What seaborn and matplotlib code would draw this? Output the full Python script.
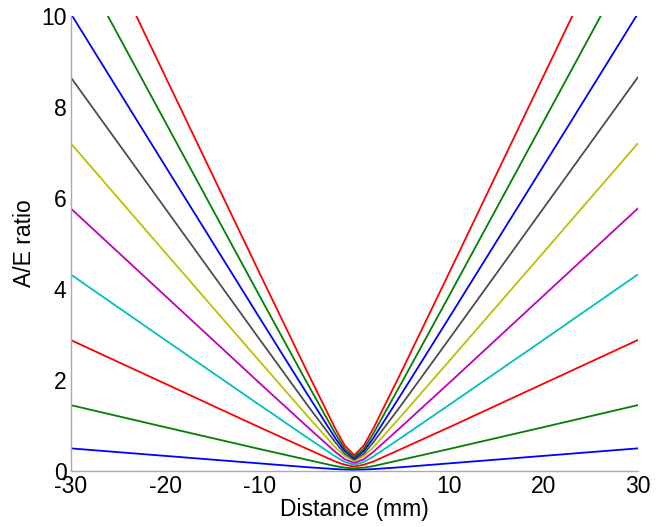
import seaborn as sns
import matplotlib.pyplot as plt
import pandas as pd

# distance positions (mm)
distance = [-30, -20, -10, -5, -2, -1, 0, 1, 2, 5, 10, 20, 30]

# A/E ratio, one list per curve (bottom to top)
ae_1 = [0.50, 0.335, 0.17, 0.087, 0.045, 0.035, 0.03, 0.035, 0.045, 0.087, 0.17, 0.335, 0.50]
ae_2 = [1.45, 0.965, 0.485, 0.25, 0.11, 0.077, 0.06, 0.077, 0.11, 0.25, 0.485, 0.965, 1.45]
ae_3 = [2.88, 1.92, 0.96, 0.49, 0.21, 0.14, 0.10, 0.14, 0.21, 0.49, 0.96, 1.92, 2.88]
ae_4 = [4.32, 2.88, 1.45, 0.74, 0.32, 0.20, 0.14, 0.20, 0.32, 0.74, 1.45, 2.88, 4.32]
ae_5 = [5.77, 3.85, 1.93, 0.98, 0.42, 0.26, 0.18, 0.26, 0.42, 0.98, 1.93, 3.85, 5.77]
ae_6 = [7.20, 4.80, 2.41, 1.22, 0.52, 0.33, 0.22, 0.33, 0.52, 1.22, 2.41, 4.80, 7.20]
ae_7 = [8.65, 5.77, 2.89, 1.46, 0.63, 0.38, 0.25, 0.38, 0.63, 1.46, 2.89, 5.77, 8.65]
ae_8 = [10.05, 6.70, 3.36, 1.70, 0.72, 0.44, 0.28, 0.44, 0.72, 1.70, 3.36, 6.70, 10.05]
ae_9 = [11.5, 7.67, 3.84, 1.94, 0.82, 0.49, 0.31, 0.49, 0.82, 1.94, 3.84, 7.67, 11.5]
ae_10 = [13.0, 8.67, 4.34, 2.19, 0.93, 0.56, 0.35, 0.56, 0.93, 2.19, 4.34, 8.67, 13.0]

curves = [ae_1, ae_2, ae_3, ae_4, ae_5, ae_6, ae_7, ae_8, ae_9, ae_10]

# matlab style colour order
colors = [(0, 0, 1), (0, 0.5, 0), (1, 0, 0), (0, 0.75, 0.75), (0.75, 0, 0.75),
          (0.75, 0.75, 0), (0.3, 0.3, 0.3), (0, 0, 1), (0, 0.5, 0), (1, 0, 0)]

rows = []
for i, vals in enumerate(curves):
    for d, v in zip(distance, vals):
        rows.append({"curve": i, "distance": d, "ae": v})
df = pd.DataFrame(rows)

sns.set_style("white")
plt.rcParams['font.family'] = ['Liberation Sans', 'DejaVu Sans']
plt.rcParams['axes.unicode_minus'] = False
plt.rcParams['text.color'] = 'black'
plt.rcParams['axes.labelcolor'] = 'black'

fig = plt.figure(figsize=(6.61, 5.27), dpi=100)
ax = fig.add_axes([0.107, 0.106, 0.858, 0.864])
sns.lineplot(data=df, x="distance", y="ae", hue="curve", palette=colors,
             legend=False, linewidth=1.3, ax=ax)

ax.set_xlim(-30, 30)
ax.set_ylim(0, 10)
ax.set_xticks([-30, -20, -10, 0, 10, 20, 30])
ax.set_yticks([0, 2, 4, 6, 8, 10])
ax.set_xlabel("Distance (mm)", fontsize=16.5, labelpad=0)
ax.set_ylabel("A/E ratio", fontsize=16.5, labelpad=4)
ax.tick_params(direction="in", length=3, width=0.8, colors="#999999",
               labelcolor="black", labelsize=16.5, pad=3)
for side in ["top", "right"]:
    ax.spines[side].set_visible(False)
for side in ["left", "bottom"]:
    ax.spines[side].set_color("#aaaaaa")
    ax.spines[side].set_linewidth(1)

plt.savefig("out.png", dpi=100)
